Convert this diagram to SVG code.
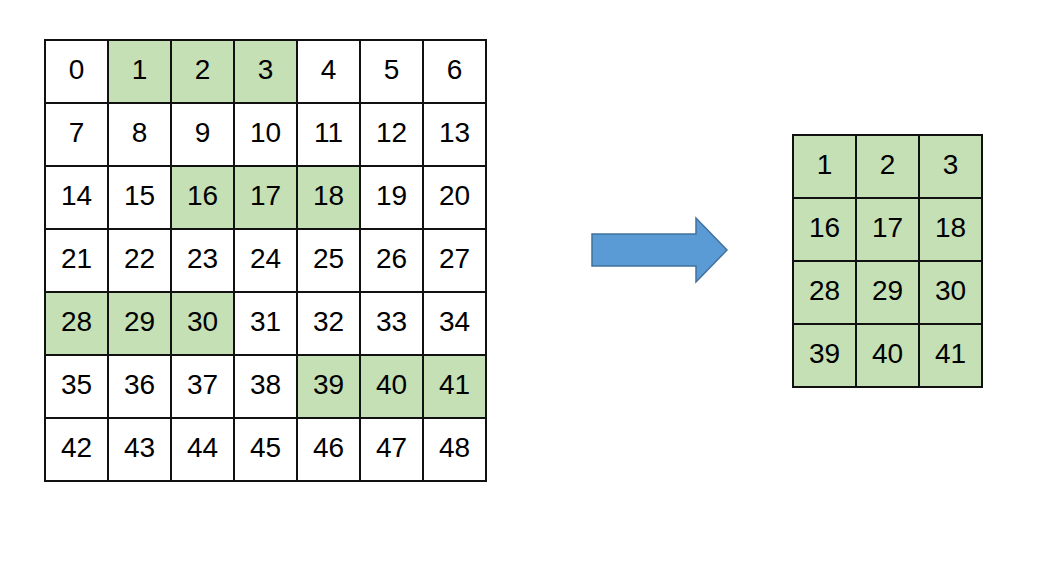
<svg xmlns="http://www.w3.org/2000/svg" width="1048" height="562" viewBox="0 0 1048 562">
<style>
.c{stroke:#111;stroke-width:2;fill:#fff}
.g{fill:#C5E0B4}
text{font-family:"Liberation Sans",Arial,sans-serif;font-size:28px;fill:#000;text-anchor:middle}
</style>
<rect width="1048" height="562" fill="#fff"/>
<g id="input-grid">
<rect class="c" x="45" y="40" width="63" height="63"/><text x="76.5" y="79">0</text>
<rect class="c g" x="108" y="40" width="63" height="63"/><text x="139.5" y="79">1</text>
<rect class="c g" x="171" y="40" width="63" height="63"/><text x="202.5" y="79">2</text>
<rect class="c g" x="234" y="40" width="63" height="63"/><text x="265.5" y="79">3</text>
<rect class="c" x="297" y="40" width="63" height="63"/><text x="328.5" y="79">4</text>
<rect class="c" x="360" y="40" width="63" height="63"/><text x="391.5" y="79">5</text>
<rect class="c" x="423" y="40" width="63" height="63"/><text x="454.5" y="79">6</text>

<rect class="c" x="45" y="103" width="63" height="63"/><text x="76.5" y="142">7</text>
<rect class="c" x="108" y="103" width="63" height="63"/><text x="139.5" y="142">8</text>
<rect class="c" x="171" y="103" width="63" height="63"/><text x="202.5" y="142">9</text>
<rect class="c" x="234" y="103" width="63" height="63"/><text x="265.5" y="142">10</text>
<rect class="c" x="297" y="103" width="63" height="63"/><text x="328.5" y="142">11</text>
<rect class="c" x="360" y="103" width="63" height="63"/><text x="391.5" y="142">12</text>
<rect class="c" x="423" y="103" width="63" height="63"/><text x="454.5" y="142">13</text>

<rect class="c" x="45" y="166" width="63" height="63"/><text x="76.5" y="205">14</text>
<rect class="c" x="108" y="166" width="63" height="63"/><text x="139.5" y="205">15</text>
<rect class="c g" x="171" y="166" width="63" height="63"/><text x="202.5" y="205">16</text>
<rect class="c g" x="234" y="166" width="63" height="63"/><text x="265.5" y="205">17</text>
<rect class="c g" x="297" y="166" width="63" height="63"/><text x="328.5" y="205">18</text>
<rect class="c" x="360" y="166" width="63" height="63"/><text x="391.5" y="205">19</text>
<rect class="c" x="423" y="166" width="63" height="63"/><text x="454.5" y="205">20</text>

<rect class="c" x="45" y="229" width="63" height="63"/><text x="76.5" y="268">21</text>
<rect class="c" x="108" y="229" width="63" height="63"/><text x="139.5" y="268">22</text>
<rect class="c" x="171" y="229" width="63" height="63"/><text x="202.5" y="268">23</text>
<rect class="c" x="234" y="229" width="63" height="63"/><text x="265.5" y="268">24</text>
<rect class="c" x="297" y="229" width="63" height="63"/><text x="328.5" y="268">25</text>
<rect class="c" x="360" y="229" width="63" height="63"/><text x="391.5" y="268">26</text>
<rect class="c" x="423" y="229" width="63" height="63"/><text x="454.5" y="268">27</text>

<rect class="c g" x="45" y="292" width="63" height="63"/><text x="76.5" y="331">28</text>
<rect class="c g" x="108" y="292" width="63" height="63"/><text x="139.5" y="331">29</text>
<rect class="c g" x="171" y="292" width="63" height="63"/><text x="202.5" y="331">30</text>
<rect class="c" x="234" y="292" width="63" height="63"/><text x="265.5" y="331">31</text>
<rect class="c" x="297" y="292" width="63" height="63"/><text x="328.5" y="331">32</text>
<rect class="c" x="360" y="292" width="63" height="63"/><text x="391.5" y="331">33</text>
<rect class="c" x="423" y="292" width="63" height="63"/><text x="454.5" y="331">34</text>

<rect class="c" x="45" y="355" width="63" height="63"/><text x="76.5" y="394">35</text>
<rect class="c" x="108" y="355" width="63" height="63"/><text x="139.5" y="394">36</text>
<rect class="c" x="171" y="355" width="63" height="63"/><text x="202.5" y="394">37</text>
<rect class="c" x="234" y="355" width="63" height="63"/><text x="265.5" y="394">38</text>
<rect class="c g" x="297" y="355" width="63" height="63"/><text x="328.5" y="394">39</text>
<rect class="c g" x="360" y="355" width="63" height="63"/><text x="391.5" y="394">40</text>
<rect class="c g" x="423" y="355" width="63" height="63"/><text x="454.5" y="394">41</text>

<rect class="c" x="45" y="418" width="63" height="63"/><text x="76.5" y="457">42</text>
<rect class="c" x="108" y="418" width="63" height="63"/><text x="139.5" y="457">43</text>
<rect class="c" x="171" y="418" width="63" height="63"/><text x="202.5" y="457">44</text>
<rect class="c" x="234" y="418" width="63" height="63"/><text x="265.5" y="457">45</text>
<rect class="c" x="297" y="418" width="63" height="63"/><text x="328.5" y="457">46</text>
<rect class="c" x="360" y="418" width="63" height="63"/><text x="391.5" y="457">47</text>
<rect class="c" x="423" y="418" width="63" height="63"/><text x="454.5" y="457">48</text>
</g>
<g id="connectors">
<path id="arrow" d="M592 234 H696 V218 L727 250 L696 282 V266 H592 Z" fill="#5B9BD5" stroke="#41719C" stroke-width="1.5" stroke-linejoin="miter"/>
</g>
<g id="output-grid">
<rect class="c g" x="793" y="135" width="63" height="63"/><text x="824.5" y="174">1</text>
<rect class="c g" x="856" y="135" width="63" height="63"/><text x="887.5" y="174">2</text>
<rect class="c g" x="919" y="135" width="63" height="63"/><text x="950.5" y="174">3</text>
<rect class="c g" x="793" y="198" width="63" height="63"/><text x="824.5" y="237">16</text>
<rect class="c g" x="856" y="198" width="63" height="63"/><text x="887.5" y="237">17</text>
<rect class="c g" x="919" y="198" width="63" height="63"/><text x="950.5" y="237">18</text>
<rect class="c g" x="793" y="261" width="63" height="63"/><text x="824.5" y="300">28</text>
<rect class="c g" x="856" y="261" width="63" height="63"/><text x="887.5" y="300">29</text>
<rect class="c g" x="919" y="261" width="63" height="63"/><text x="950.5" y="300">30</text>
<rect class="c g" x="793" y="324" width="63" height="63"/><text x="824.5" y="363">39</text>
<rect class="c g" x="856" y="324" width="63" height="63"/><text x="887.5" y="363">40</text>
<rect class="c g" x="919" y="324" width="63" height="63"/><text x="950.5" y="363">41</text>
</g>
</svg>
